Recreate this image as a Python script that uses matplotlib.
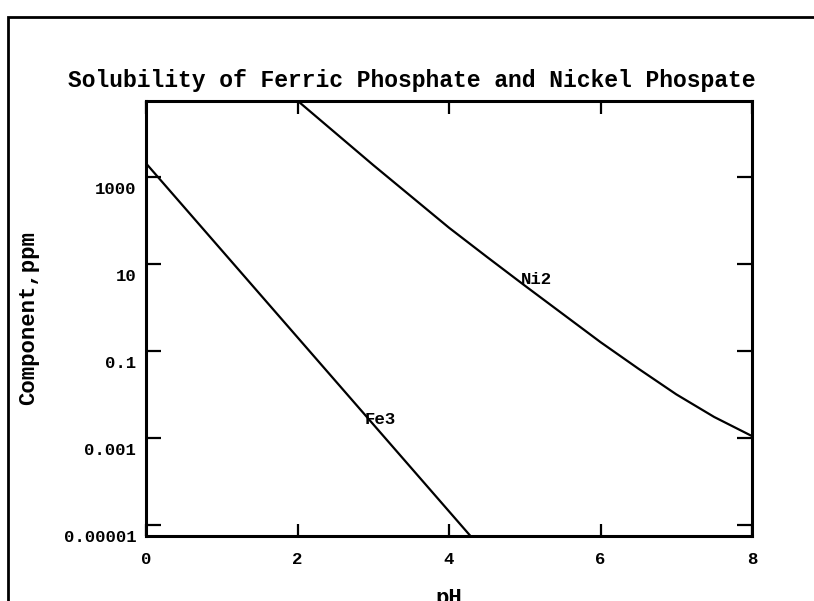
import numpy as np
import matplotlib
matplotlib.use("Agg")
import matplotlib.pyplot as plt
from matplotlib.patches import Rectangle

# ---- data ----
fe3_ph = [0.0, 1.0, 2.0, 3.0, 4.0, 4.28]
fe3_log = [3.56, 1.56, -0.44, -2.44, -4.44, -5.0]

ni2_ph = [2.0, 2.5, 3.0, 3.5, 4.0, 4.5, 5.0, 5.5, 6.0, 6.5, 7.0, 7.5, 8.0]
ni2_log = [5.0, 4.26, 3.52, 2.80, 2.08, 1.41, 0.75, 0.10, -0.55, -1.16, -1.75, -2.27, -2.71]

x_ticks = [0, 2, 4, 6, 8]
y_tick_vals = [1e3, 1e1, 1e-1, 1e-3, 1e-5]
y_tick_labels = ["1000", "10", "0.1", "0.001", "0.00001"]

title = "Solubility of Ferric Phosphate and Nickel Phospate"
xlabel = "pH"
ylabel = "Component,ppm"

FONT = "Liberation Mono"
MARK_SHIFT = 10 ** 0.25  # tick marks drawn slightly above labelled values

fig = plt.figure(figsize=(8.14, 6.01), dpi=100)
fig.patch.set_facecolor("white")

# outer frame (partially outside the image)
fig.patches.append(Rectangle((8 / 814, -0.1), 1.2, 1 - 17 / 601 + 0.1,
                             transform=fig.transFigure, fill=False,
                             edgecolor="black", linewidth=2.0))

ax = fig.add_axes([146 / 814, 1 - 535.7 / 601, 606 / 814, 435 / 601])
ax.set_yscale("log")

ax.plot(fe3_ph, np.power(10.0, fe3_log), color="black", linewidth=1.6,
        solid_joinstyle="round")
ax.plot(ni2_ph, np.power(10.0, ni2_log), color="black", linewidth=1.6,
        solid_joinstyle="round")

ax.set_xlim(0, 8)
ax.set_ylim(1e-5, 1e5)

for s in ax.spines.values():
    s.set_linewidth(2.2)

ax.set_xticks(x_ticks)
ax.set_xticklabels([str(t) for t in x_ticks], fontfamily=FONT,
                   fontweight="bold", fontsize=12.5)
ax.tick_params(axis="x", which="major", direction="in", length=9, width=1.6,
               top=True, bottom=True, pad=12)

ax.set_yticks(y_tick_vals)
ax.set_yticklabels(y_tick_labels, fontfamily=FONT, fontweight="bold", fontsize=12.5)
ax.tick_params(axis="y", which="major", length=0, pad=7)
ax.set_yticks([v * MARK_SHIFT for v in y_tick_vals], minor=True)
ax.tick_params(axis="y", which="minor", direction="in", length=11, width=1.6,
               left=True, right=True, labelleft=False)

fig.text(412 / 814, 1 - 80 / 601, title, fontfamily=FONT, fontweight="bold",
         fontsize=16.6, ha="center", va="center")
ax.set_xlabel(xlabel, fontfamily=FONT, fontweight="bold", fontsize=16, labelpad=15)
ax.set_ylabel(ylabel, fontfamily=FONT, fontweight="bold", fontsize=16, labelpad=18)

ax.text(3.09, 10 ** -2.32, "Fe3", fontfamily=FONT, fontweight="bold",
        fontsize=12.5, ha="center", va="center")
ax.text(5.16, 10 ** 0.885, "Ni2", fontfamily=FONT, fontweight="bold",
        fontsize=12.5, ha="center", va="center")

fig.savefig("out.png", dpi=100)
